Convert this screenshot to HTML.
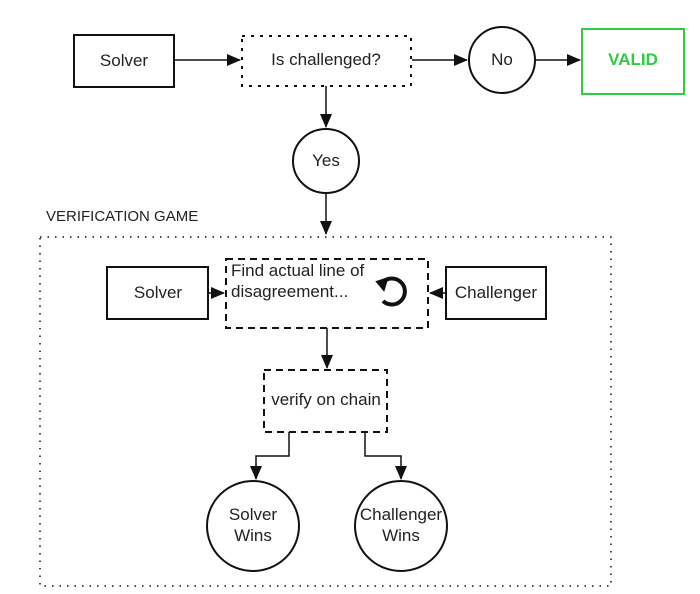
<!DOCTYPE html>
<html><head><style>html,body{margin:0;padding:0;background:#fff}svg{display:block}text{font-family:"Liberation Sans",sans-serif;font-size:17px;fill:#222}</style></head>
<body>
<svg width="700" height="594" viewBox="0 0 700 594" xmlns="http://www.w3.org/2000/svg">
<defs><marker id="b" markerWidth="14" markerHeight="12" refX="13" refY="6" orient="auto" markerUnits="userSpaceOnUse"><path d="M0,0 L14,6 L0,12 z" fill="#111"/></marker></defs>
<g stroke="#111" stroke-width="2" fill="none">
<rect x="74" y="35" width="100" height="52"/>
<rect x="242" y="36" width="169" height="50" stroke-dasharray="3,6"/>
<ellipse cx="502" cy="60" rx="33" ry="33"/>
<rect x="582" y="29" width="102" height="65" stroke="#2ecc40"/>
<ellipse cx="326" cy="161" rx="33" ry="32"/>
<rect x="40" y="237" width="571" height="349" stroke-width="1.5" stroke-dasharray="1.5,6"/>
<rect x="107" y="267" width="101" height="52"/>
<rect x="226" y="259" width="202" height="69" stroke-dasharray="7,5"/>
<rect x="446" y="267" width="100" height="52"/>
<rect x="264" y="370" width="123" height="62" stroke-dasharray="7,5"/>
<ellipse cx="253" cy="526" rx="46" ry="45"/>
<ellipse cx="401" cy="526" rx="46" ry="45"/>
<path d="M174,60 H240" stroke-width="1.5" marker-end="url(#b)"/>
<path d="M412,60 H467" stroke-width="1.5" marker-end="url(#b)"/>
<path d="M535,60 H580" stroke-width="1.5" marker-end="url(#b)"/>
<path d="M326,86 V127" stroke-width="1.5" marker-end="url(#b)"/>
<path d="M326,193 V234" stroke-width="1.5" marker-end="url(#b)"/>
<path d="M208,293 H224" stroke-width="1.5" marker-end="url(#b)"/>
<path d="M446,293 H430" stroke-width="1.5" marker-end="url(#b)"/>
<path d="M327,328 V368" stroke-width="1.5" marker-end="url(#b)"/>
<path d="M289,432 V456 H256 V479" stroke-width="1.5" marker-end="url(#b)"/>
<path d="M365,432 V456 H401 V479" stroke-width="1.5" marker-end="url(#b)"/>
<path d="M383,282 A13,13 0 1 1 383,301" stroke-width="4"/>
</g>
<path d="M376,278 L390,285 L378,292 z" fill="#111" transform="rotate(80 383 285)"/>
<text x="124" y="66" text-anchor="middle">Solver</text>
<text x="326" y="65" text-anchor="middle">Is challenged?</text>
<text x="502" y="65" text-anchor="middle">No</text>
<text x="633" y="65" text-anchor="middle" style="fill:#2ecc40;font-weight:bold">VALID</text>
<text x="326" y="166" text-anchor="middle">Yes</text>
<text x="46" y="221" style="font-size:15px">VERIFICATION GAME</text>
<text x="158" y="298" text-anchor="middle">Solver</text>
<text x="231" y="276">Find actual line of</text>
<text x="231" y="297">disagreement...</text>
<text x="496" y="298" text-anchor="middle">Challenger</text>
<text x="326" y="405" text-anchor="middle">verify on chain</text>
<text x="253" y="520" text-anchor="middle">Solver</text>
<text x="253" y="541" text-anchor="middle">Wins</text>
<text x="401" y="520" text-anchor="middle">Challenger</text>
<text x="401" y="541" text-anchor="middle">Wins</text>
</svg>
</body></html>
